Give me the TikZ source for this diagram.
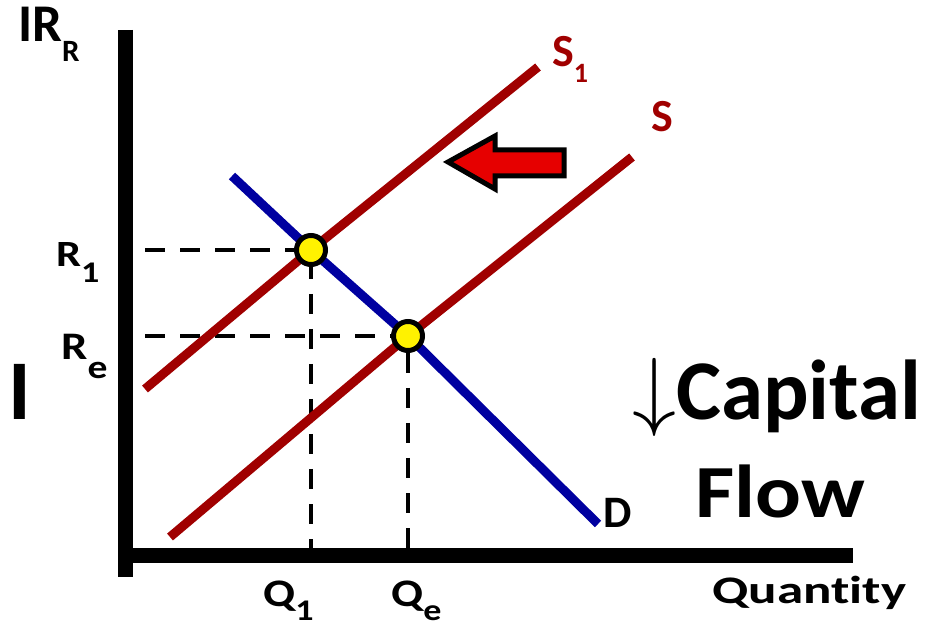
\documentclass[tikz,border=0pt]{standalone}
\usepackage{fontspec}
\setmainfont{Carlito}[Ligatures={NoCommon}]
\definecolor{angebot}{RGB}{160,0,0}
\definecolor{nachfrage}{RGB}{0,0,160}
\definecolor{pfeilrot}{RGB}{230,0,0}
\newcommand{\tief}[3]{\raisebox{-#1pt}[0pt][0pt]{\fontsize{#2}{#2}\selectfont #3}}
\newcommand{\gr}[1]{\fontsize{#1}{#1}\selectfont\bfseries}
\newcommand{\breit}[2]{\scalebox{#1}[1]{#2}}
\newcommand{\runter}{{\fontsize{20}{20}\selectfont\scalebox{4.25}{$\downarrow$}}}

\begin{document}
\begin{tikzpicture}[x=1pt, y=-1pt,
    achse/.style={line width=15pt},
    kurve/.style={line width=9pt, line join=round},
    hilfslinie/.style={line width=4pt, dash pattern=on 20pt off 15pt},
    punkt/.style={circle, draw=black, fill=yellow, line width=5pt, minimum size=29pt, inner sep=0pt},
    txt/.style={anchor=base west, inner sep=0pt}]
    \useasboundingbox (0,0) rectangle (938,628);
    % Achsen:
    \coordinate (oben) at (125,30);
    \coordinate (unten) at (125,577);
    \coordinate (links) at (118,555);
    \coordinate (rechts) at (853,555);
    \draw[achse] (oben) -- (unten); % Zinssatz
    \draw[achse] (links) -- (rechts); % Menge
    % Gleichgewichte:
    \coordinate (e1) at (311,250);
    \coordinate (ee) at (408,336);
    \coordinate (r1) at (145,250);
    \coordinate (re) at (145,336);
    \coordinate (q1) at (311,548);
    \coordinate (qe) at (408,548);
    \draw[hilfslinie] (r1) -- (e1) -- (q1);
    \draw[hilfslinie] (re) -- (ee) -- (qe);
    % Kurven:
    \coordinate (sa) at (145,389);
    \coordinate (sb) at (538,67);
    \coordinate (sc) at (170,537);
    \coordinate (sd) at (632,157);
    \coordinate (da) at (232,176);
    \coordinate (db) at (598,524);
    \draw[kurve, angebot] (sa) -- (e1) -- (sb); % S1
    \draw[kurve, angebot] (sc) -- (ee) -- (sd); % S
    \draw[kurve, nachfrage] (da) -- (e1) -- (ee) -- (db); % D
    \node[punkt] (p1) at (e1) {};
    \node[punkt] (pe) at (ee) {};
    % Verschiebung nach links:
    \draw[line width=5pt, fill=pfeilrot, line join=miter]
        (448,162) -- (495,136) -- (495,150) -- (564,150) -- (564,176) -- (495,176) -- (495,189) -- cycle;
    % Beschriftung:
    \node[txt, font=\gr{53}] (ir) at (18,42) {IR\tief{20}{31}{R}};
    \node[txt, font=\gr{37}] (lr1) at (56,267) {\breit{1.2}{R\tief{16}{30}{1}}};
    \node[txt, font=\gr{39}] (lre) at (61,360) {\breit{1.2}{R\tief{19}{33}{e}}};
    \node[txt, font=\gr{85}] (li) at (8,420) {I};
    \node[txt, font=\gr{46}, text=angebot] (ls1) at (552,67) {S\tief{16}{28}{1}};
    \node[txt, font=\gr{46}, text=angebot] (ls) at (651,132) {S};
    \node[txt, font=\gr{45}] (ld) at (603,527) {D};
    \node[txt, font=\gr{39}] (lq1) at (263,606) {\breit{1.2}{Q\tief{14}{30}{1}}};
    \node[txt, font=\gr{39}] (lqe) at (391,606) {\breit{1.2}{Q\tief{14}{30}{e}}};
    \node[txt, font=\gr{39}] (lmenge) at (712,603) {\breit{1.36}{Quantity}};
    \node[txt, font=\gr{85}] (lkap) at (632,420) {\runter Capital};
    \node[txt, font=\gr{75}] (lflow) at (695,517) {\breit{1.14}{Flow}};
\end{tikzpicture}
\end{document}
